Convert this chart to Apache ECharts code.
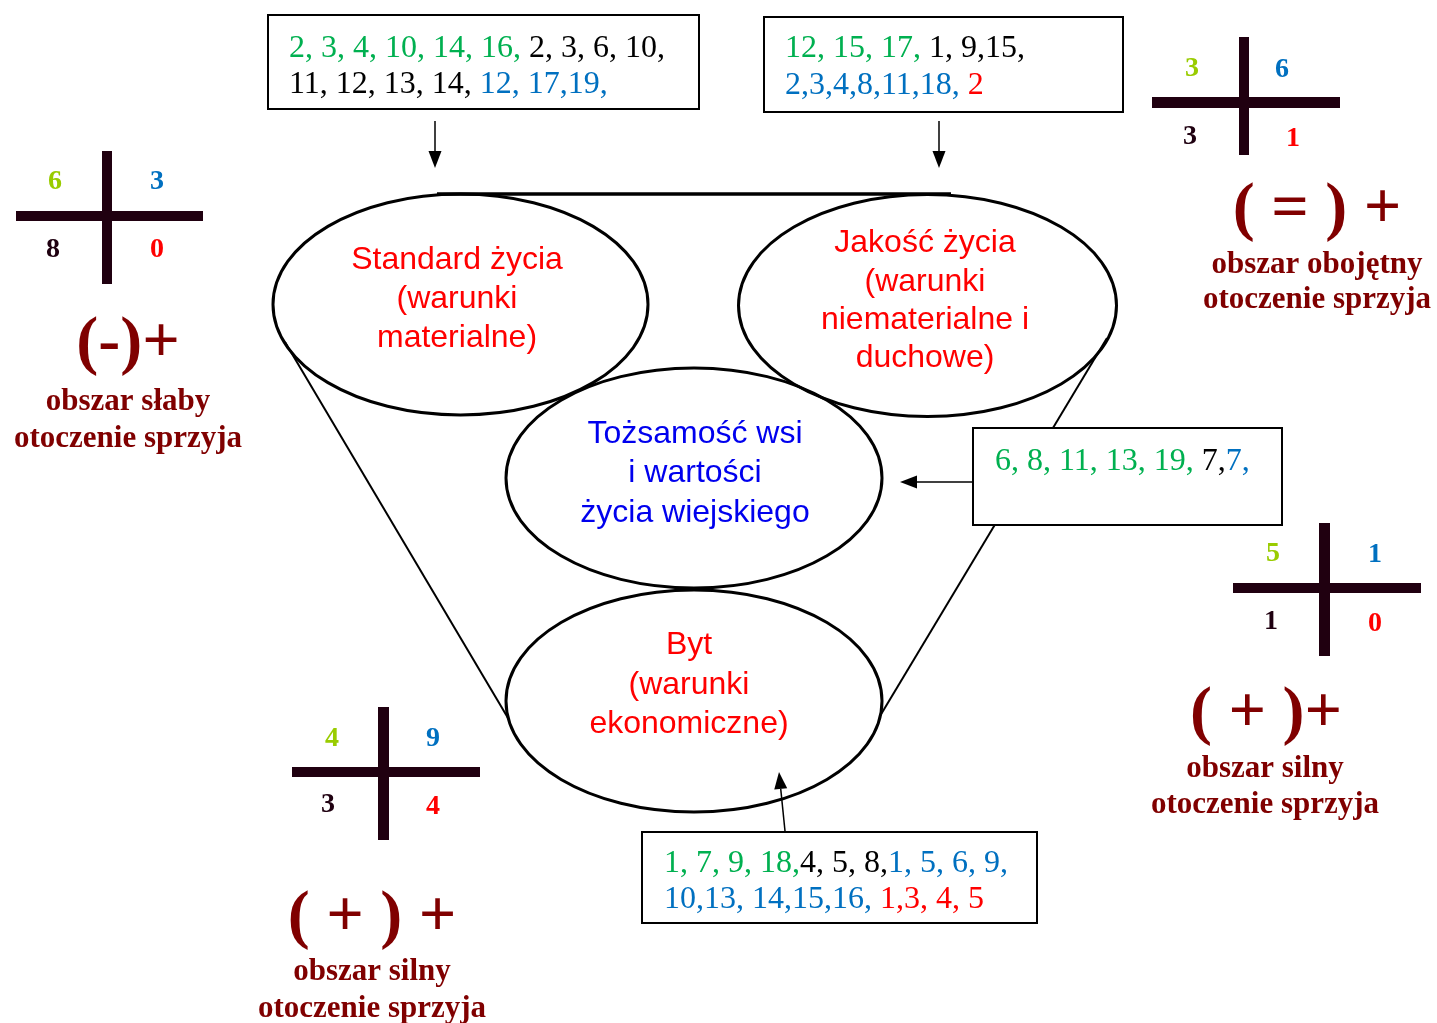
<!DOCTYPE html>
<html>
<head>
<meta charset="utf-8">
<script src="https://cdn.jsdelivr.net/npm/echarts@6/dist/echarts.min.js"></script>
<style>html,body{margin:0;padding:0;background:#fff}#c{width:1437px;height:1023px}</style>
</head>
<body>
<div id="c"></div>
<script>
// ================= CONTENT =================
// ellipse ("sphere") labels
const sphereStandard = ['Standard życia', '(warunki', 'materialne)'];
const sphereJakosc = ['Jakość życia', '(warunki', 'niematerialne i', 'duchowe)'];
const sphereTozsamosc = ['Tożsamość wsi', 'i wartości', 'życia wiejskiego'];
const sphereByt = ['Byt', '(warunki', 'ekonomiczne)'];

// number lists in the boxes: each line is a list of [group, text] segments
// groups: green, black, blue, red
const boxStandardLines = [
  [['green', '2, 3, 4, 10, 14, 16, '], ['black', '2, 3, 6, 10,']],
  [['black', '11, 12, 13, 14, '], ['blue', '12, 17,19,']]
];
const boxJakoscLines = [
  [['green', '12, 15, 17, '], ['black', '1, 9,15,']],
  [['blue', '2,3,4,8,11,18, '], ['red', '2']]
];
const boxTozsamoscLines = [
  [['green', '6, 8, 11, 13, 19, '], ['black', '7,'], ['blue', '7,']]
];
const boxBytLines = [
  [['green', '1, 7, 9, 18,'], ['black', '4, 5, 8,'], ['blue', '1, 5, 6, 9,']],
  [['blue', '10,13, 14,15,16, '], ['red', '1,3, 4, 5']]
];

// cross counts: [top-left (green), top-right (blue), bottom-left (black), bottom-right (red)]
const crossSlaby = [6, 3, 8, 0];
const crossObojetny = [3, 6, 3, 1];
const crossSilnyRight = [5, 1, 1, 0];
const crossSilnyBottom = [4, 9, 3, 4];

const areaSymbols = ['(-)+', '( = ) +', '( + )+', '( + ) +'];
const areaNames = [
  ['obszar słaby', 'otoczenie sprzyja'],
  ['obszar obojętny', 'otoczenie sprzyja'],
  ['obszar silny', 'otoczenie sprzyja'],
  ['obszar silny', 'otoczenie sprzyja']
];

// ================= LAYOUT (axis units = pixels) =================
const sphereLayout = [
  { c: [460.5, 304.5], r: [187.5, 110.5], tx: 457, ty: [260, 299, 338] },
  { c: [927.5, 305.5], r: [189, 111], tx: 925, ty: [243, 282, 320, 358] },
  { c: [694, 478], r: [188, 110], tx: 695, ty: [434, 473, 513] },
  { c: [694, 701], r: [188, 111], tx: 689, ty: [645, 685, 724] }
];
const linesLayout = [
  [437, 194, 951, 194],
  [285, 342, 508, 718],
  [1107, 338, 880, 716]
];
const lineWidths = [3.5, 2, 2];
const boxLayout = [
  { rect: [268, 15, 699, 109], tx: 289, ty: [49, 85] },
  { rect: [764, 17, 1123, 112], tx: 785, ty: [49, 86] },
  { rect: [973, 428, 1282, 525], tx: 995, ty: [462] },
  { rect: [642, 832, 1037, 923], tx: 664, ty: [864, 900] }
];
const arrowLayout = [
  [435, 121, 435, 168],
  [939, 121, 939, 168],
  [973, 482, 900, 482],
  [785, 831, 779, 772]
];
const crossLayout = [
  { v: [102, 151, 112, 284], h: [16, 211, 203, 221], n: [[55, 182], [157, 182], [53, 250], [157, 250]], sym: [128, 345], nx: 128, ny: [402, 439] },
  { v: [1239, 37, 1249, 155], h: [1152, 97, 1340, 108], n: [[1192, 69], [1282, 70], [1190, 137], [1293, 139]], sym: [1317, 211], nx: 1317, ny: [265, 300] },
  { v: [1319, 523, 1330, 656], h: [1233, 583, 1421, 593], n: [[1273, 554], [1375, 555], [1271, 622], [1375, 624]], sym: [1266, 715], nx: 1265, ny: [769, 805] },
  { v: [378, 707, 389, 840], h: [292, 767, 480, 777], n: [[332, 739], [433, 739], [328, 805], [433, 807]], sym: [372, 919], nx: 372, ny: [972, 1009] }
];

// ================= STYLES =================
const SERIF = '"Times New Roman","Liberation Serif",serif';
const SANS = 'Arial,"Liberation Sans",sans-serif';
const sphereColors = ['#ff0000', '#ff0000', '#0000ee', '#ff0000'];
const groupColors = { green: '#00b050', black: '#000000', blue: '#0070c0', red: '#ff0000' };
const crossNumColors = ['#99cc00', '#0070c0', '#1f0010', '#ff0000'];
const CROSS_BAR = '#200010';
const HEAD = '#800000';

// ================= BUILD =================
const sphereLabels = [sphereStandard, sphereJakosc, sphereTozsamosc, sphereByt];
const boxes = [boxStandardLines, boxJakoscLines, boxTozsamoscLines, boxBytLines];
const crosses = [crossSlaby, crossObojetny, crossSilnyRight, crossSilnyBottom];

function P(api, x, y) { return api.coord([x, y]); }
function rectEl(api, r, style) {
  const a = P(api, r[0], r[1]), b = P(api, r[2], r[3]);
  return { type: 'rect', shape: { x: Math.min(a[0], b[0]), y: Math.min(a[1], b[1]), width: Math.abs(b[0] - a[0]), height: Math.abs(b[1] - a[1]) }, style: style };
}
function textEl(api, x, y, style) {
  const p = P(api, x, y);
  return { type: 'text', x: p[0], y: p[1], style: style };
}

const boxFont = '32px ' + SERIF;
const rich = {};
Object.keys(groupColors).forEach(function (k) { rich[k] = { fill: groupColors[k], font: boxFont }; });

const chart = echarts.init(document.getElementById('c'), null, { renderer: 'canvas' });
const base = { type: 'custom', coordinateSystem: 'cartesian2d', silent: true, animation: false, clip: false };

chart.setOption({
  backgroundColor: '#ffffff',
  animation: false,
  grid: { left: 0, right: 0, top: 0, bottom: 0 },
  xAxis: { type: 'value', min: 0, max: 1437, show: false },
  yAxis: { type: 'value', min: 0, max: 1023, inverse: true, show: false },
  series: [
    Object.assign({}, base, {
      name: 'lines',
      data: linesLayout,
      renderItem: function (params, api) {
        const a = P(api, api.value(0), api.value(1)), b = P(api, api.value(2), api.value(3));
        return { type: 'line', shape: { x1: a[0], y1: a[1], x2: b[0], y2: b[1] }, style: { stroke: '#000', lineWidth: lineWidths[params.dataIndex], fill: 'none' } };
      }
    }),
    Object.assign({}, base, {
      name: 'spheres',
      data: sphereLayout.map(function (s) { return [s.c[0], s.c[1]]; }),
      renderItem: function (params, api) {
        const s = sphereLayout[params.dataIndex];
        const c = P(api, s.c[0], s.c[1]);
        const e = P(api, s.c[0] + s.r[0], s.c[1] + s.r[1]);
        const children = [{ type: 'ellipse', shape: { cx: c[0], cy: c[1], rx: Math.abs(e[0] - c[0]), ry: Math.abs(e[1] - c[1]) }, style: { fill: 'none', stroke: '#000', lineWidth: 3 } }];
        sphereLabels[params.dataIndex].forEach(function (t, i) {
          children.push(textEl(api, s.tx, s.ty[i], { text: t, font: '32px ' + SANS, fill: sphereColors[params.dataIndex], align: 'center', verticalAlign: 'middle' }));
        });
        return { type: 'group', children: children };
      }
    }),
    Object.assign({}, base, {
      name: 'boxes',
      data: boxLayout.map(function (b) { return [b.rect[0], b.rect[1]]; }),
      renderItem: function (params, api) {
        const b = boxLayout[params.dataIndex];
        const children = [rectEl(api, b.rect, { fill: '#fff', stroke: '#000', lineWidth: 2 })];
        boxes[params.dataIndex].forEach(function (segs, i) {
          const txt = segs.map(function (s) { return '{' + s[0] + '|' + s[1] + '}'; }).join('');
          children.push(textEl(api, b.tx, b.ty[i], { text: txt, rich: rich, font: boxFont, fill: '#000', align: 'left', verticalAlign: 'middle' }));
        });
        return { type: 'group', children: children };
      }
    }),
    Object.assign({}, base, {
      name: 'arrows',
      data: arrowLayout,
      renderItem: function (params, api) {
        const a = P(api, api.value(0), api.value(1)), b = P(api, api.value(2), api.value(3));
        const dx = b[0] - a[0], dy = b[1] - a[1], len = Math.sqrt(dx * dx + dy * dy);
        const ux = dx / len, uy = dy / len, hl = 17, hw = 6.5;
        const bx = b[0] - ux * hl, by = b[1] - uy * hl;
        return { type: 'group', children: [
          { type: 'line', shape: { x1: a[0], y1: a[1], x2: bx, y2: by }, style: { stroke: '#000', lineWidth: 1.5 } },
          { type: 'polygon', shape: { points: [[b[0], b[1]], [bx - uy * hw, by + ux * hw], [bx + uy * hw, by - ux * hw]] }, style: { fill: '#000', stroke: 'none' } }
        ] };
      }
    }),
    Object.assign({}, base, {
      name: 'crosses',
      data: crossLayout.map(function (c) { return [c.v[0], c.v[1]]; }),
      renderItem: function (params, api) {
        const c = crossLayout[params.dataIndex];
        const vals = crosses[params.dataIndex];
        const children = [
          rectEl(api, c.h, { fill: CROSS_BAR, stroke: 'none' }),
          rectEl(api, c.v, { fill: CROSS_BAR, stroke: 'none' })
        ];
        vals.forEach(function (v, i) {
          children.push(textEl(api, c.n[i][0], c.n[i][1], { text: String(v), font: 'bold 28px ' + SERIF, fill: crossNumColors[i], align: 'center', verticalAlign: 'middle' }));
        });
        children.push(textEl(api, c.sym[0], c.sym[1], { text: areaSymbols[params.dataIndex], font: 'bold 66px ' + SERIF, fill: HEAD, align: 'center', verticalAlign: 'middle' }));
        areaNames[params.dataIndex].forEach(function (t, i) {
          children.push(textEl(api, c.nx, c.ny[i], { text: t, font: 'bold 31px ' + SERIF, fill: HEAD, align: 'center', verticalAlign: 'middle' }));
        });
        return { type: 'group', children: children };
      }
    })
  ]
});
</script>
</body>
</html>
